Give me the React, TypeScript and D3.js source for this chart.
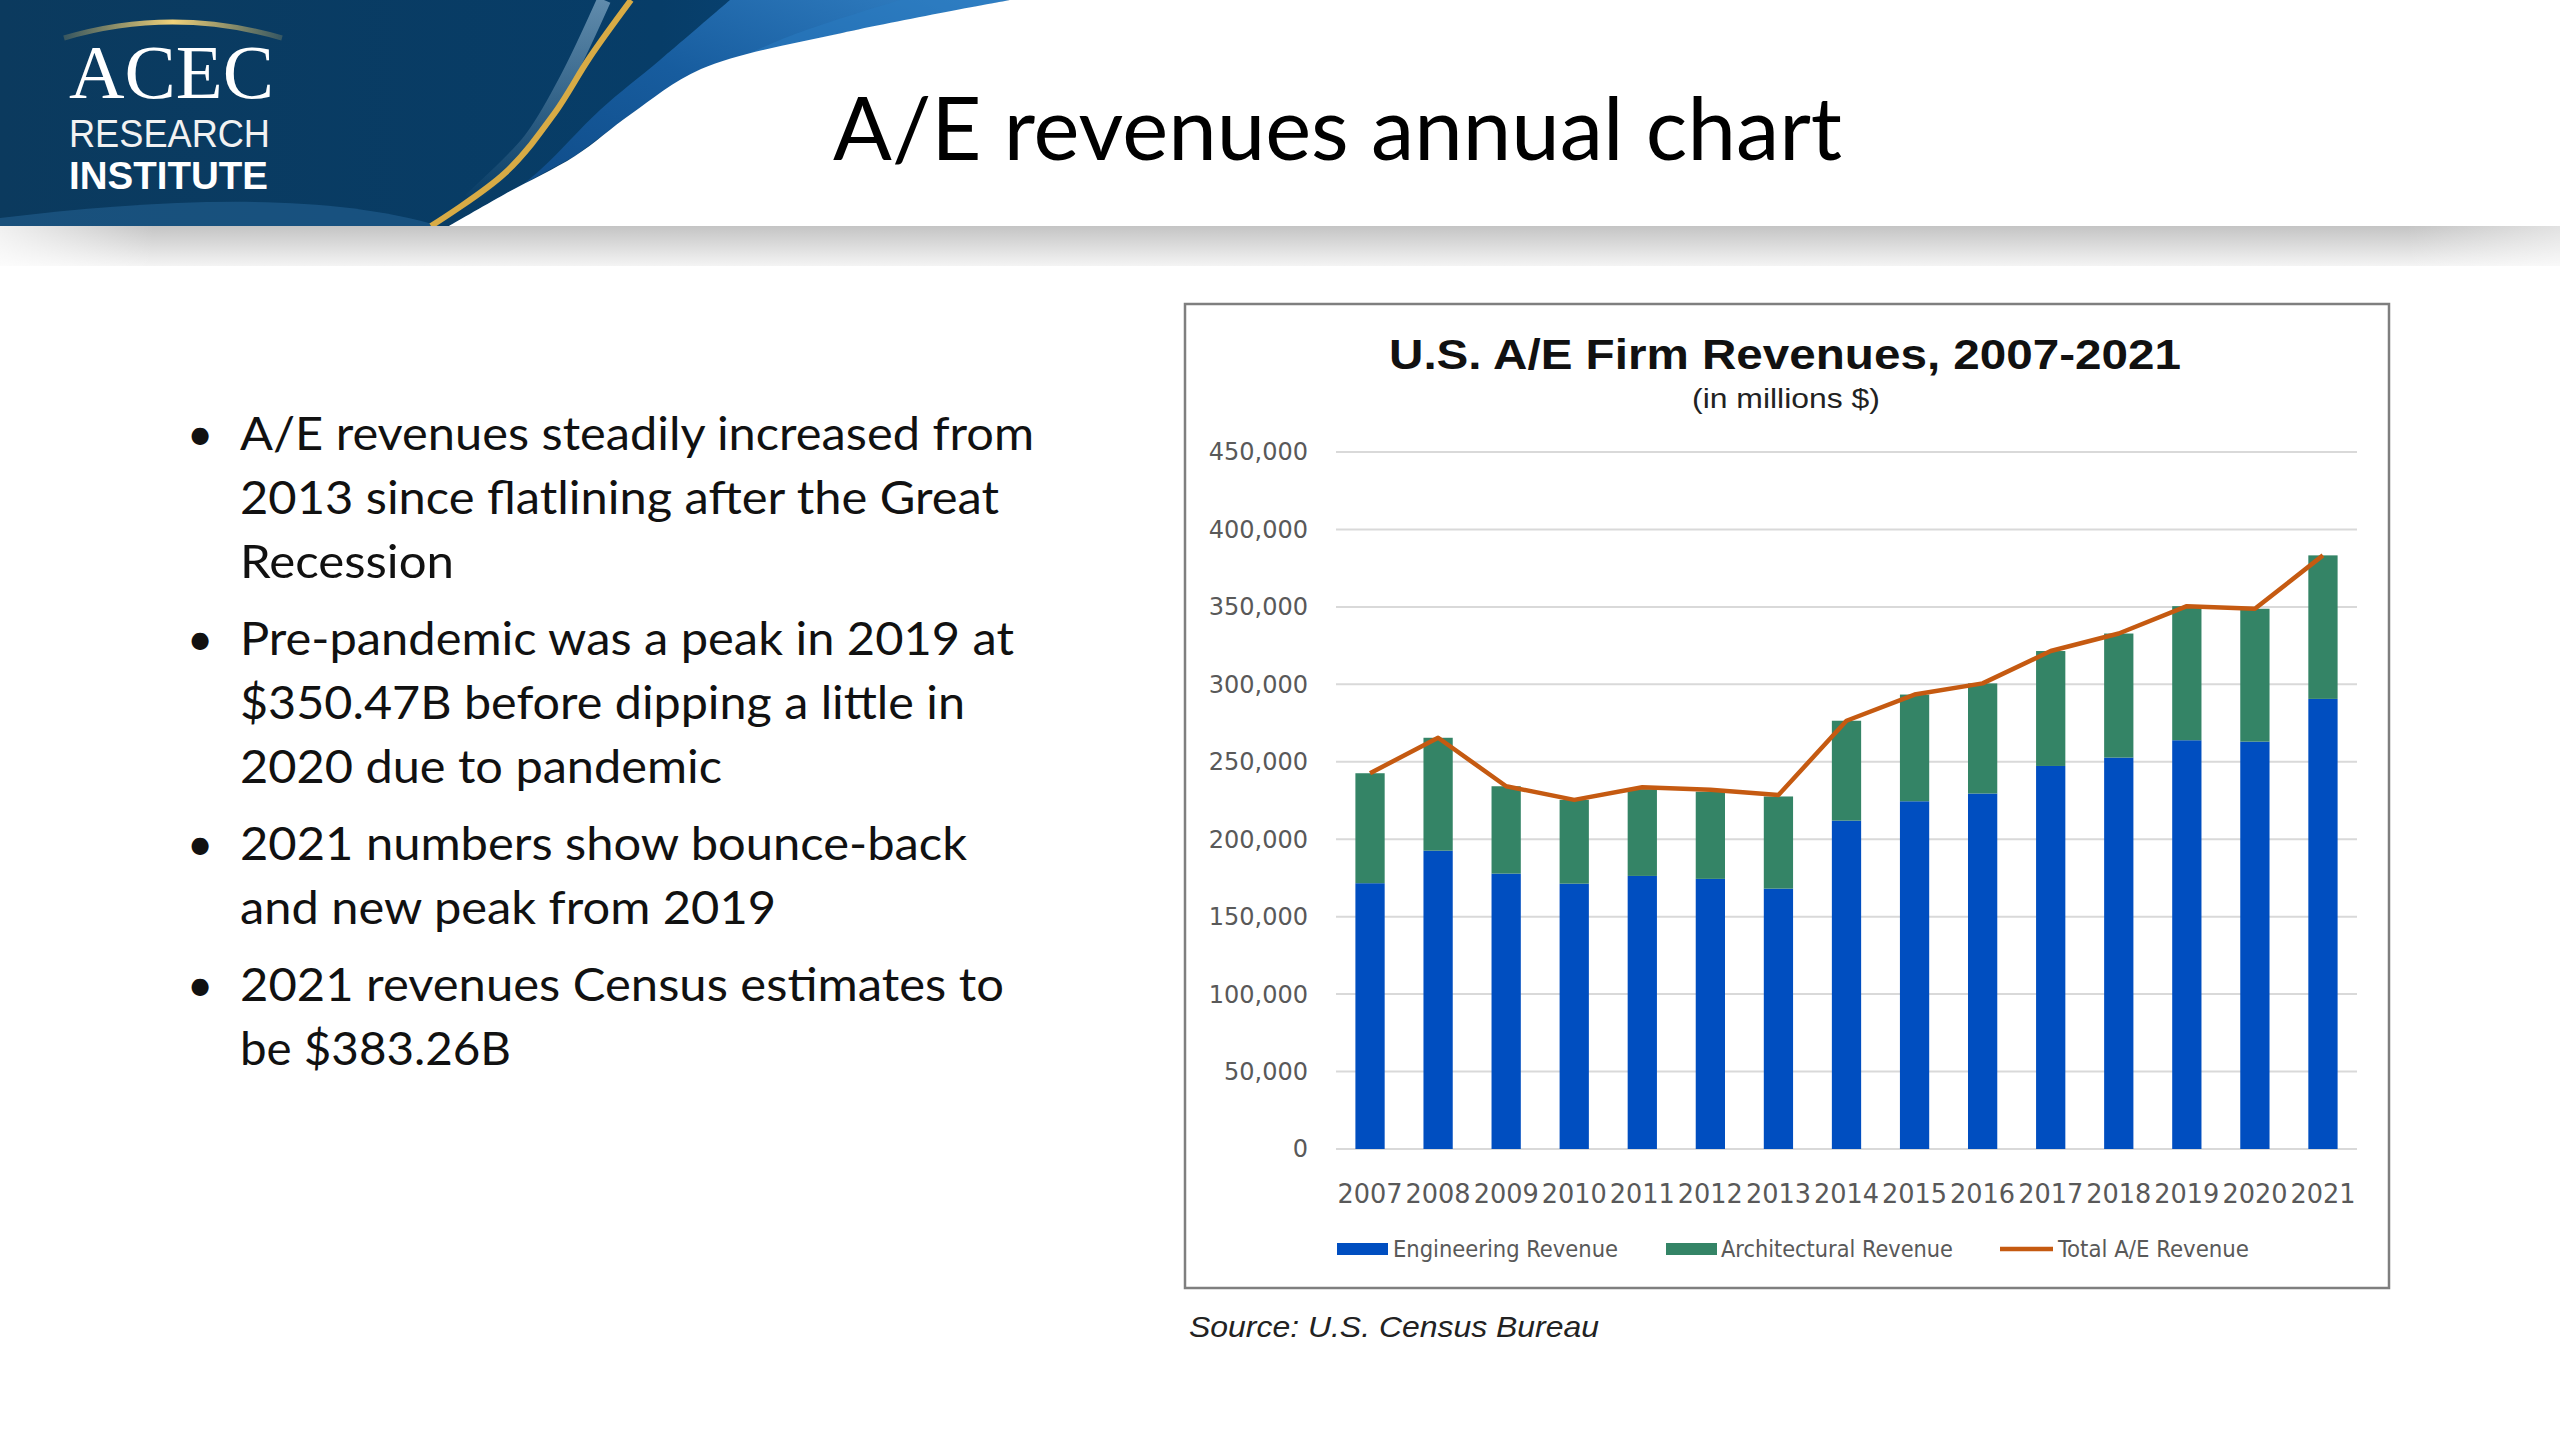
import React from 'react';
import * as d3 from 'd3';

// values (millions $)
const years = ['2007', '2008', '2009', '2010', '2011', '2012', '2013', '2014', '2015', '2016', '2017', '2018', '2019', '2020', '2021'];
const engineering = [171600, 192600, 177800, 171300, 176300, 174400, 168100, 212000, 224500, 229500, 247300, 252700, 263900, 263000, 290600];
const architectural = [71000, 72900, 56400, 54100, 56000, 56300, 59500, 64500, 68900, 71100, 74200, 80100, 86570, 85800, 92660];
const totalRevenue = [242600, 265500, 234200, 225400, 233500, 232000, 228500, 276500, 293400, 300600, 321500, 332800, 350470, 348800, 383260];
const yTicks = [0, 50000, 100000, 150000, 200000, 250000, 300000, 350000, 400000, 450000];
const legendLabels = ['Engineering Revenue', 'Architectural Revenue', 'Total A/E Revenue'];

const bullets: { text: string; width: number }[][] = [
  [
    { text: 'A/E revenues steadily increased from', width: 794 },
    { text: '2013 since flatlining after the Great', width: 759 },
    { text: 'Recession', width: 214 },
  ],
  [
    { text: 'Pre-pandemic was a peak in 2019 at', width: 774 },
    { text: '$350.47B before dipping a little in', width: 725 },
    { text: '2020 due to pandemic', width: 482 },
  ],
  [
    { text: '2021 numbers show bounce-back', width: 727 },
    { text: 'and new peak from 2019', width: 536 },
  ],
  [
    { text: '2021 revenues Census estimates to', width: 764 },
    { text: 'be $383.26B', width: 271 },
  ],
];

const COLORS = {
  eng: '#004ec0',
  arch: '#348466',
  total: '#c55a11',
  grid: '#d9d9d9',
  tick: '#595959',
};

const plot = { left: 1336, right: 2357, top: 452, bottom: 1149 };
const HEADER_H = 226;

// header swoosh outlines (layout only)
const curve = d3.line<[number, number]>().curve(d3.curveCatmullRom.alpha(0.5));
const whiteEdge: [number, number][] = [[449, HEADER_H], [505, 194], [575, 156], [631, 114], [701, 69], [842, 33], [1010, 0]];
const goldEdge: [number, number][] = [[431, HEADER_H], [505, 173], [554, 114], [590, 57], [631, 0]];
const lightEdge: [number, number][] = [[470, HEADER_H], [540, 170], [600, 110], [660, 60], [730, 0]];
const paleEdge: [number, number][] = [[470, 200], [530, 140], [566, 80], [604, 0]];

const Banner: React.FC = () => {
  const white = curve(whiteEdge) + ` L 2560 0 L 2560 ${HEADER_H} Z`;
  const streakBand =
    curve(lightEdge) + ' L ' + [...whiteEdge].reverse().map((p) => p.join(' ')).join(' L ') + ' Z';
  return (
    <g>
      <defs>
        <linearGradient id="navy" x1="0" x2="1" y1="0" y2="0">
          <stop offset="0" stopColor="#0b3a5e" />
          <stop offset="0.6" stopColor="#073d68" />
          <stop offset="1" stopColor="#0b4f8a" />
        </linearGradient>
        <linearGradient id="streak" x1="0" x2="1" y1="1" y2="0">
          <stop offset="0" stopColor="#0d4886" />
          <stop offset="0.55" stopColor="#1a62a8" />
          <stop offset="1" stopColor="#3a8ad0" />
        </linearGradient>
        <linearGradient id="strip" x1="0" x2="0" y1="0" y2="1">
          <stop offset="0" stopColor="#c4c4c4" />
          <stop offset="1" stopColor="#f4f4f4" />
        </linearGradient>
        <linearGradient id="stripFade" x1="0" x2="1" y1="0" y2="0">
          <stop offset="0" stopColor="#ffffff" stopOpacity="0.75" />
          <stop offset="0.06" stopColor="#ffffff" stopOpacity="0" />
          <stop offset="0.94" stopColor="#ffffff" stopOpacity="0" />
          <stop offset="1" stopColor="#ffffff" stopOpacity="0.5" />
        </linearGradient>
        <linearGradient id="arcGold" x1="0" x2="1" y1="0" y2="0">
          <stop offset="0" stopColor="#e9c766" stopOpacity="0.2" />
          <stop offset="0.5" stopColor="#f1d27a" />
          <stop offset="1" stopColor="#e9c766" stopOpacity="0.2" />
        </linearGradient>
        <linearGradient id="paleFade" x1="0" x2="0" y1="1" y2="0">
          <stop offset="0" stopColor="#9cc0da" stopOpacity="0" />
          <stop offset="1" stopColor="#9cc0da" stopOpacity="0.6" />
        </linearGradient>
      </defs>
      <rect x={0} y={0} width={1100} height={HEADER_H} fill="url(#navy)" />
      {/* subtle lighter sweep at the lower left */}
      <path d={`M 0 ${HEADER_H - 8} C 150 200, 320 190, 440 ${HEADER_H} L 0 ${HEADER_H} Z`} fill="#3a86bf" opacity={0.3} />
      {/* blue streaks to the right of the gold line */}
      <path d={streakBand} fill="url(#streak)" opacity={0.85} />
      <path d={curve([[600, 150], [680, 90], [780, 40], [900, 0]]) + ' L 1010 0 L 842 33 L 701 69 Z'} fill="#2a7cc2" opacity={0.5} />
      {/* pale streak hugging the gold line */}
      <path d={curve(paleEdge) || ''} fill="none" stroke="url(#paleFade)" strokeWidth={14} />
      {/* white area */}
      <path d={white} fill="#ffffff" />
      {/* gold stripe */}
      <path d={curve(goldEdge) || ''} fill="none" stroke="#d8ab45" strokeWidth={6} />
      {/* logo */}
      <path d="M 64 38 Q 172 6 282 38" fill="none" stroke="url(#arcGold)" strokeWidth={5} />
      <text x={69} y={98} fill="#ffffff" fontFamily="'Liberation Serif', serif" fontSize={76} textLength={205} lengthAdjust="spacingAndGlyphs">ACEC</text>
      <text x={69} y={147} fill="#f2f2f2" fontFamily="'Liberation Sans', sans-serif" fontSize={38} textLength={201} lengthAdjust="spacingAndGlyphs">RESEARCH</text>
      <text x={69} y={189} fill="#ffffff" fontFamily="'Liberation Sans', sans-serif" fontWeight="bold" fontSize={38} textLength={199} lengthAdjust="spacingAndGlyphs">INSTITUTE</text>
      {/* grey strip under the header */}
      <rect x={0} y={HEADER_H} width={2560} height={40} fill="url(#strip)" />
      <rect x={0} y={HEADER_H} width={2560} height={40} fill="url(#stripFade)" />
      <text x={833} y={160} fill="#000000" fontFamily="Lato, 'Open Sans', sans-serif" fontSize={88} textLength={1009} lengthAdjust="spacingAndGlyphs">A/E revenues annual chart</text>
    </g>
  );
};

const Bullets: React.FC = () => {
  const lineH = 64;
  const paraGap = 13;
  let y = 450;
  const out: React.ReactNode[] = [];
  bullets.forEach((para, pi) => {
    para.forEach((line, li) => {
      if (li === 0) {
        out.push(
          <text key={`b${pi}`} x={200} y={y} textAnchor="middle" fontFamily="Lato, sans-serif" fontSize={46} fill="#111">•</text>
        );
      }
      out.push(
        <text key={`l${pi}-${li}`} x={240} y={y} fontFamily="Lato, 'Open Sans', sans-serif" fontSize={47} fill="#111" textLength={line.width} lengthAdjust="spacingAndGlyphs">
          {line.text}
        </text>
      );
      y += lineH;
    });
    y += paraGap;
  });
  return <g>{out}</g>;
};

const RevenueChart: React.FC = () => {
  const x = d3.scaleBand<string>().domain(years).range([plot.left, plot.right]).paddingInner(0.57).paddingOuter(0.285);
  const y = d3.scaleLinear().domain([0, 450000]).range([plot.bottom, plot.top]);
  const fmt = d3.format(',');

  const rows = years.map((yr, i) => ({ year: yr, engineering: engineering[i], architectural: architectural[i] }));
  const series = d3.stack<any>().keys(['engineering', 'architectural'])(rows);
  const fills = [COLORS.eng, COLORS.arch];

  const line = d3
    .line<number>()
    .x((_, i) => (x(years[i]) as number) + x.bandwidth() / 2)
    .y((d) => y(d));

  const legendFont = "'DejaVu Sans Condensed', 'DejaVu Sans', sans-serif";

  return (
    <g>
      <rect x={1185} y={304} width={1204} height={984} fill="#ffffff" stroke="#7f7f7f" strokeWidth={2.5} />
      <text x={1785} y={369} textAnchor="middle" fontFamily="'Liberation Sans', Arial, sans-serif" fontWeight="bold" fontSize={43} fill="#111" textLength={792} lengthAdjust="spacingAndGlyphs">
        U.S. A/E Firm Revenues, 2007-2021
      </text>
      <text x={1786} y={408} textAnchor="middle" fontFamily="'Liberation Sans', Arial, sans-serif" fontSize={28} fill="#222" textLength={188} lengthAdjust="spacingAndGlyphs">
        (in millions $)
      </text>

      {yTicks.map((t) => (
        <g key={t}>
          <line x1={plot.left} x2={plot.right} y1={y(t)} y2={y(t)} stroke={COLORS.grid} strokeWidth={2} />
          <text x={1308} y={y(t)} dy="0.35em" textAnchor="end" fontFamily="'DejaVu Sans', Verdana, sans-serif" fontSize={24} fill={COLORS.tick}>
            {fmt(t)}
          </text>
        </g>
      ))}

      {series.map((s, si) => (
        <g key={s.key} fill={fills[si]}>
          {s.map((d, i) => (
            <rect key={years[i]} x={x(years[i])} y={y(d[1])} width={x.bandwidth()} height={y(d[0]) - y(d[1])} />
          ))}
        </g>
      ))}

      <path d={line(totalRevenue) || ''} fill="none" stroke={COLORS.total} strokeWidth={4.5} strokeLinejoin="round" />

      {years.map((yr) => (
        <text key={yr} x={(x(yr) as number) + x.bandwidth() / 2} y={1203} textAnchor="middle" fontFamily={legendFont} fontStretch="condensed" fontSize={27} fill={COLORS.tick} textLength={65} lengthAdjust="spacingAndGlyphs">
          {yr}
        </text>
      ))}

      {/* legend */}
      <rect x={1337} y={1243} width={51} height={12} fill={COLORS.eng} />
      <text x={1393} y={1257} fontFamily={legendFont} fontStretch="condensed" fontSize={23} fill={COLORS.tick} textLength={225} lengthAdjust="spacingAndGlyphs">{legendLabels[0]}</text>
      <rect x={1666} y={1243} width={51} height={12} fill={COLORS.arch} />
      <text x={1721} y={1257} fontFamily={legendFont} fontStretch="condensed" fontSize={23} fill={COLORS.tick} textLength={232} lengthAdjust="spacingAndGlyphs">{legendLabels[1]}</text>
      <line x1={2000} x2={2053} y1={1249} y2={1249} stroke={COLORS.total} strokeWidth={4.5} />
      <text x={2058} y={1257} fontFamily={legendFont} fontStretch="condensed" fontSize={23} fill={COLORS.tick} textLength={191} lengthAdjust="spacingAndGlyphs">{legendLabels[2]}</text>

      <text x={1189} y={1337} fontFamily="'Liberation Sans', Arial, sans-serif" fontStyle="italic" fontSize={30} fill="#222" textLength={410} lengthAdjust="spacingAndGlyphs">
        Source: U.S. Census Bureau
      </text>
    </g>
  );
};

export default function App() {
  return (
    <svg width={2560} height={1440} style={{ position: 'absolute', left: 0, top: 0, display: 'block', background: '#ffffff' }}>
      <rect width={2560} height={1440} fill="#ffffff" />
      <Banner />
      <Bullets />
      <RevenueChart />
    </svg>
  );
}
